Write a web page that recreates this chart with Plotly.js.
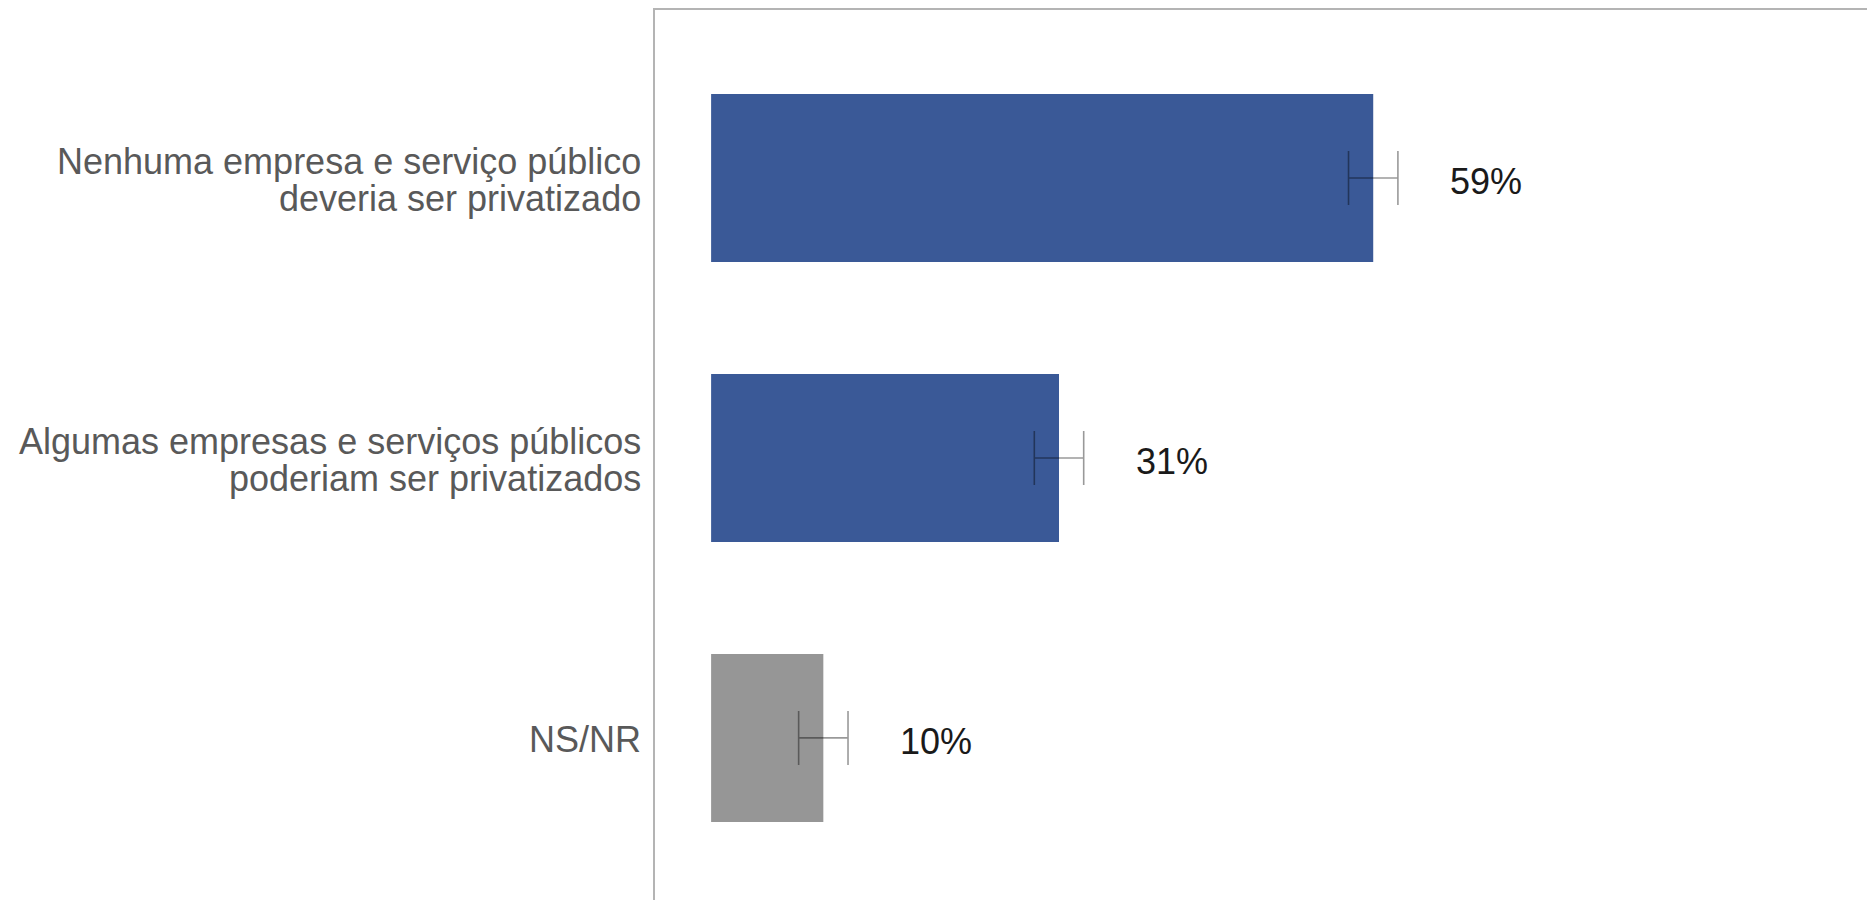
<!DOCTYPE html>
<html>
<head>
<meta charset="utf-8">
<script src="https://cdn.plot.ly/plotly-3.0.1.min.js"></script>
<style>
html,body{margin:0;padding:0;background:#fff;}
#chart{width:1867px;height:900px;}
</style>
</head>
<body>
<div id="chart"></div>
<script>
// Data
const categories = [
  "Nenhuma empresa e serviço público\ndeveria ser privatizado",
  "Algumas empresas e serviços públicos\npoderiam ser privatizados",
  "NS/NR"
];
const values = [59, 31, 10];
const errors = [2.2, 2.2, 2.2];

// Styles
const BLUE = "#3a5997";
const GREY = "#969696";
const barColors = [BLUE, BLUE, GREY];
const FONT = "Arial, 'Liberation Sans', sans-serif";

const trace = {
  type: "bar",
  orientation: "h",
  y: categories,
  x: values,
  width: 0.6,
  marker: {color: barColors, line: {width: 0}},
  error_x: {
    type: "data",
    array: errors,
    visible: true,
    color: "rgba(0,0,0,0.4)",
    thickness: 1.6,
    width: 27
  },
  hoverinfo: "none"
};

const annotations = [];
// value labels
values.forEach((v, i) => {
  annotations.push({
    x: v + errors[i], y: categories[i], xref: "x", yref: "y",
    text: v + "%", showarrow: false, xanchor: "left", yanchor: "middle",
    xshift: 50, yshift: -4,
    font: {family: FONT, size: 36, color: "#1a1a1a"}
  });
});
// category labels, one annotation per line for tight line spacing
const LINE_GAP = 37;
categories.forEach((c, i) => {
  const lines = c.split("\n");
  const n = lines.length;
  lines.forEach((ln, k) => {
    annotations.push({
      x: 0, y: c, xref: "paper", yref: "y",
      text: ln, showarrow: false, xanchor: "right", yanchor: "middle",
      xshift: -12, yshift: ((n - 1) / 2 - k) * LINE_GAP - 2,
      font: {family: FONT, size: 36, color: "#595959"}
    });
  });
});

const layout = {
  width: 1867, height: 900,
  margin: {l: 655, r: 0, t: 10, b: 0, pad: 0},
  paper_bgcolor: "#fff", plot_bgcolor: "#fff",
  showlegend: false,
  xaxis: {
    range: [-5, 103], side: "top", showline: true, linecolor: "#b4b4b4", linewidth: 2,
    showgrid: false, zeroline: false, showticklabels: false, ticks: ""
  },
  yaxis: {
    type: "category", range: [2.579, -0.6], showline: true, linecolor: "#b4b4b4", linewidth: 2,
    showgrid: false, zeroline: false, showticklabels: false, ticks: ""
  },
  annotations: annotations,
  font: {family: FONT}
};

Plotly.newPlot("chart", [trace], layout, {displayModeBar: false, staticPlot: true});
</script>
</body>
</html>
